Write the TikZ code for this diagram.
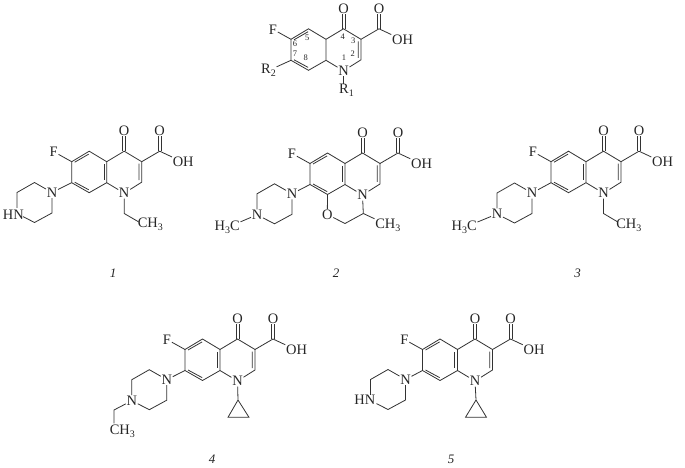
\documentclass[tikz,border=0pt]{standalone}
\usepackage{fontspec}
\setmainfont{Liberation Serif}
\newcommand{\subnum}[1]{\raisebox{-.4ex}{\fontsize{10}{10}\selectfont #1}}
\tikzset{
  bond/.style={line width=0.8bp,draw=black!80},
  atom/.style={inner sep=0.6bp,font=\fontsize{14.5}{14.5}\selectfont,text=black!85},
  grp/.style={inner sep=0.6bp,font=\fontsize{14.5}{14.5}\selectfont,text=black!85},
  num/.style={inner sep=0pt,font=\fontsize{8.5}{8.5}\selectfont,text=black!85},
  caption/.style={inner sep=0pt,font=\fontsize{13}{13}\itshape\selectfont,text=black!85},
}
% quinolone core; #1 name prefix, #2 #3 position of C4a
\newcommand{\corering}[3]{%
\begin{scope}[shift={(#2,#3)},name prefix=#1-]
  \coordinate (c4a) at (0,0);
  \coordinate (c8a) at (0,21);
  \coordinate (c8) at (-17.5,31);
  \coordinate (c7) at (-35,21);
  \coordinate (c6) at (-35,0);
  \coordinate (c5) at (-17.5,-10.5);
  \coordinate (c4) at (17.5,-10.5);
  \coordinate (c3) at (35,0);
  \coordinate (c2) at (35,20.5);
  \coordinate (cc) at (53,-10.5);
  \coordinate (o1l) at (15.9,-10.5);
  \coordinate (o1r) at (19.1,-10.5);
  \coordinate (o2l) at (51.4,-10.5);
  \coordinate (o2r) at (54.6,-10.5);
  \coordinate (i56a) at (-32,0.5);
  \coordinate (i56b) at (-17.9,-7.6);
  \coordinate (i78a) at (-32,20.5);
  \coordinate (i78b) at (-17.9,28.1);
  \coordinate (i23a) at (32.2,2);
  \coordinate (i23b) at (32.2,18.5);
  \node[atom] (n1) at (17.5,31.5) {N};
  \node[atom] (o4) at (17.5,-31) {O};
  \node[atom] (oc) at (53,-31) {O};
  \node[atom] (oh) at (76.5,0.5) {OH};
  \node[atom] (f) at (-53,-10) {F};
  \draw[bond] (c4a) -- (c8a) (c8a) -- (c8) -- (c7) -- (c6) -- (c5) -- (c4a) -- (c4) -- (c3) -- (c2) -- (n1) -- (c8a);
  \draw[bond] (i56a) -- (i56b) (i78a) -- (i78b) (i23a) -- (i23b);
  \draw[bond] (c3) -- (cc) (cc) -- (oh) (c6) -- (f);
  \draw[bond] (o1l) -- (o4.south-|o1l) (o1r) -- (o4.south-|o1r);
  \draw[bond] (o2l) -- (oc.south-|o2l) (o2r) -- (oc.south-|o2r);
\end{scope}}
% inner line of the C4a=C8a double bond
\newcommand{\midbond}[3]{%
\begin{scope}[shift={(#2,#3)},name prefix=#1-]
  \coordinate (ma) at (-2.8,2.5);
  \coordinate (mb) at (-2.8,18.5);
  \draw[bond] (ma) -- (mb);
\end{scope}}
% piperazine; #2 #3 position of the N attached to C7
\newcommand{\pipe}[4]{%
\begin{scope}[shift={(#2,#3)},name prefix=#1-]
  \node[atom] (pn) at (0,0) {N};
  \coordinate (pa) at (-17.5,-10);
  \coordinate (pb) at (-35,0);
  \coordinate (pd) at (-17.5,30);
  \coordinate (pe) at (0,20.5);
  \node[atom] (pq) at (-35,21) {#4};
  \draw[bond] (pn) -- (pa) -- (pb) -- (pq) -- (pd) -- (pe) -- (pn);
\end{scope}}
\begin{document}
\begin{tikzpicture}[x=1bp,y=-1bp]
\useasboundingbox (0,0) rectangle (685,468);
\fill[white] (0,0) rectangle (685,468);

% general structure
\corering{g}{326}{39.3}
\node[atom] (r2) at (268.5,70.5) {R\subnum{2}};
\node[atom] (r1) at (346.5,90.5) {R\subnum{1}};
\draw[bond] (g-c7) -- (r2);
\draw[bond] (g-n1) -- (g-n1|-r1.north);
\node[num] (l6) at (295,44) {6};
\node[num] (l5) at (307.3,37.5) {5};
\node[num] (l7) at (295,53.5) {7};
\node[num] (l8) at (305.7,57.7) {8};
\node[num] (l4) at (342.7,36.7) {4};
\node[num] (l3) at (353.3,40.7) {3};
\node[num] (l2) at (352.7,53.5) {2};
\node[num] (l1) at (344,57.7) {1};

% 1
\corering{a}{106.7}{161.7}
\midbond{a}{106.7}{161.7}
\pipe{a}{52}{192.5}{\phantom{N}}
\node[atom,anchor=east] (a-hn) at (24.5,214.5) {HN};
\draw[bond] (a-c7) -- (a-pn);
\coordinate (a-e1) at (124.2,213.5);
\node[grp,anchor=west] (a-me) at (137,224) {CH\subnum{3}};
\coordinate (a-e2) at (138.5,221.8);
\draw[bond] (a-n1) -- (a-e1) -- (a-e2);
\node[caption] (cap1) at (113,273) {1};

% 2
\corering{b}{345}{163.5}
\midbond{b}{345}{163.5}
\pipe{b}{292}{193.8}{N}
\draw[bond] (b-c7) -- (b-pn);
\node[grp,anchor=east] (b-h3c) at (240.5,227.5) {H\subnum{3}C};
\draw[bond] (b-pq) -- (b-h3c);
\node[atom] (b-o) at (327.3,214.5) {O};
\coordinate (b-ch2) at (345,223.5);
\coordinate (b-ch) at (363.3,213.5);
\node[grp,anchor=west] (b-me) at (374.5,225) {CH\subnum{3}};
\draw[bond] (b-c8) -- (b-o) -- (b-ch2) -- (b-ch) -- (b-n1);
\draw[bond] (b-ch) -- (b-me);
\node[caption] (cap2) at (336,273) {2};

% 3
\corering{c}{586}{161.7}
\midbond{c}{586}{161.7}
\pipe{c}{532}{193}{N}
\draw[bond] (c-c7) -- (c-pn);
\node[grp,anchor=east] (c-h3c) at (477.5,227.5) {H\subnum{3}C};
\draw[bond] (c-pq) -- (c-h3c);
\coordinate (c-e1) at (603.5,213.5);
\coordinate (c-e2) at (617.5,221.8);
\node[grp,anchor=west] (c-me) at (615.5,225) {CH\subnum{3}};
\draw[bond] (c-n1) -- (c-e1) -- (c-e2);
\node[caption] (cap3) at (577.5,273) {3};

% 4
\corering{d}{220}{349.5}
\midbond{d}{220}{349.5}
\pipe{d}{166.8}{379.7}{N}
\draw[bond] (d-c7) -- (d-pn);
\coordinate (d-e1) at (114,410);
\coordinate (d-e2) at (114,423.3);
\node[grp,anchor=west] (d-me) at (109,431) {CH\subnum{3}};
\draw[bond] (d-pq) -- (d-e1) -- (d-e2);
\coordinate (d-cp) at (238,400);
\coordinate (d-cl) at (228,417.3);
\coordinate (d-cr) at (249,417.3);
\draw[bond] (d-n1) -- (d-cp) -- (d-cl) -- (d-cr) -- (d-cp);
\node[caption] (cap4) at (212,459) {4};

% 5
\corering{e}{457.5}{349.5}
\midbond{e}{457.5}{349.5}
\pipe{e}{405.5}{379.5}{\phantom{N}}
\node[atom,anchor=east] (e-hn) at (376,399.5) {HN};
\draw[bond] (e-c7) -- (e-pn);
\coordinate (e-cp) at (476,400);
\coordinate (e-cl) at (465.5,417.3);
\coordinate (e-cr) at (486.5,417.3);
\draw[bond] (e-n1) -- (e-cp) -- (e-cl) -- (e-cr) -- (e-cp);
\node[caption] (cap5) at (451,459) {5};
\end{tikzpicture}
\end{document}
